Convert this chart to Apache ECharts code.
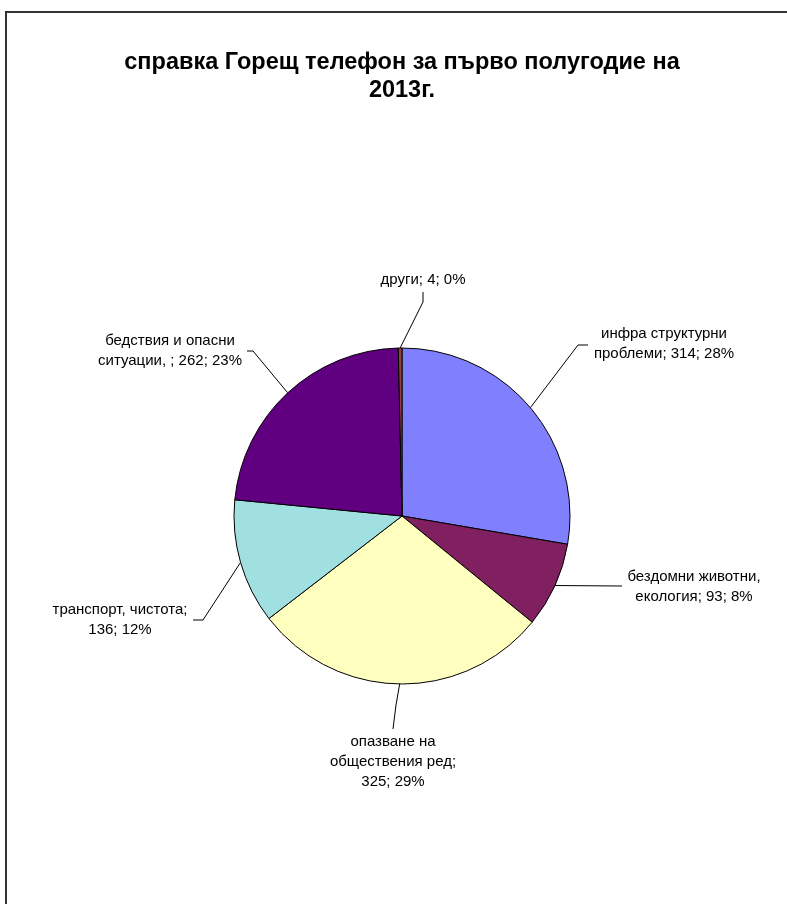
<!DOCTYPE html>
<html>
<head>
<meta charset="utf-8">
<script src="https://cdn.jsdelivr.net/npm/echarts@6/dist/echarts.min.js"></script>
<style>
html,body{margin:0;padding:0;background:#fff;}
#main{width:787px;height:904px;}
</style>
</head>
<body>
<div id="main"></div>
<script>
// Data
const categories = [
  'инфра структурни проблеми',
  'бездомни животни, екология',
  'опазване на обществения ред',
  'транспорт, чистота',
  'бедствия и опасни ситуации, ',
  'други'
];
const values = [314, 93, 325, 136, 262, 4];
// Label text wrapping (text only)
const wrappedNames = [
  'инфра структурни\nпроблеми',
  'бездомни животни,\nекология',
  'опазване на\nобществения ред',
  'транспорт, чистота',
  'бедствия и опасни\nситуации, ',
  'други'
];
const nameSeparators = ['; ', '; ', ';\n', ';\n', '; ', '; '];

// Presentation
const colors = ['#8080FF', '#802060', '#FFFFC0', '#A0E0E0', '#600080', '#994040'];
const labelPlacement = [
  {x: 664, y: 344, line: [[578, 345], [588, 345]]},
  {x: 694, y: 587, line: [[622, 586]]},
  {x: 393, y: 762, line: [[396, 705], [393, 729]]},
  {x: 120, y: 620, line: [[203, 620], [193, 620]]},
  {x: 170, y: 351, line: [[253, 351], [247, 351]]},
  {x: 423, y: 280, line: [[423, 302], [423, 292]]}
];

const chart = echarts.init(document.getElementById('main'), null, {renderer: 'canvas'});
chart.setOption({
  backgroundColor: '#ffffff',
  animation: false,
  title: {
    text: 'справка Горещ телефон за първо полугодие на\n2013г.',
    left: 397,
    textAlign: 'center',
    top: 44,
    textStyle: {
      fontFamily: 'Liberation Sans, Arial, sans-serif',
      fontSize: 23.5,
      fontWeight: 'bold',
      color: '#000',
      lineHeight: 28
    }
  },
  graphic: [{
    type: 'rect',
    shape: {x: 6, y: 12, width: 1000, height: 1000},
    style: {fill: 'none', stroke: '#333', lineWidth: 2},
    silent: true
  }],
  series: [{
    type: 'pie',
    center: [402, 516],
    radius: 168,
    startAngle: 90,
    clockwise: true,
    percentPrecision: 0,
    avoidLabelOverlap: false,
    data: categories.map((n, i) => ({name: n, value: values[i]})),
    color: colors,
    itemStyle: {borderColor: '#000', borderWidth: 1},
    label: {
      show: true,
      position: 'outside',
      fontFamily: 'Liberation Sans, Arial, sans-serif',
      fontSize: 15,
      lineHeight: 20,
      color: '#000',
      formatter: p => wrappedNames[p.dataIndex] + nameSeparators[p.dataIndex] + p.value + '; ' + p.percent + '%'
    },
    labelLine: {show: true, lineStyle: {color: '#000', width: 1}, smooth: false},
    labelLayout: function (params) {
      const lp = labelPlacement[params.dataIndex];
      const start = params.labelLinePoints ? params.labelLinePoints[0] : null;
      const pts = start ? [start].concat(lp.line) : undefined;
      const res = {x: lp.x, y: lp.y, align: 'center', verticalAlign: 'middle'};
      if (pts) res.labelLinePoints = pts;
      return res;
    },
    emphasis: {disabled: true}
  }]
});
</script>
</body>
</html>
